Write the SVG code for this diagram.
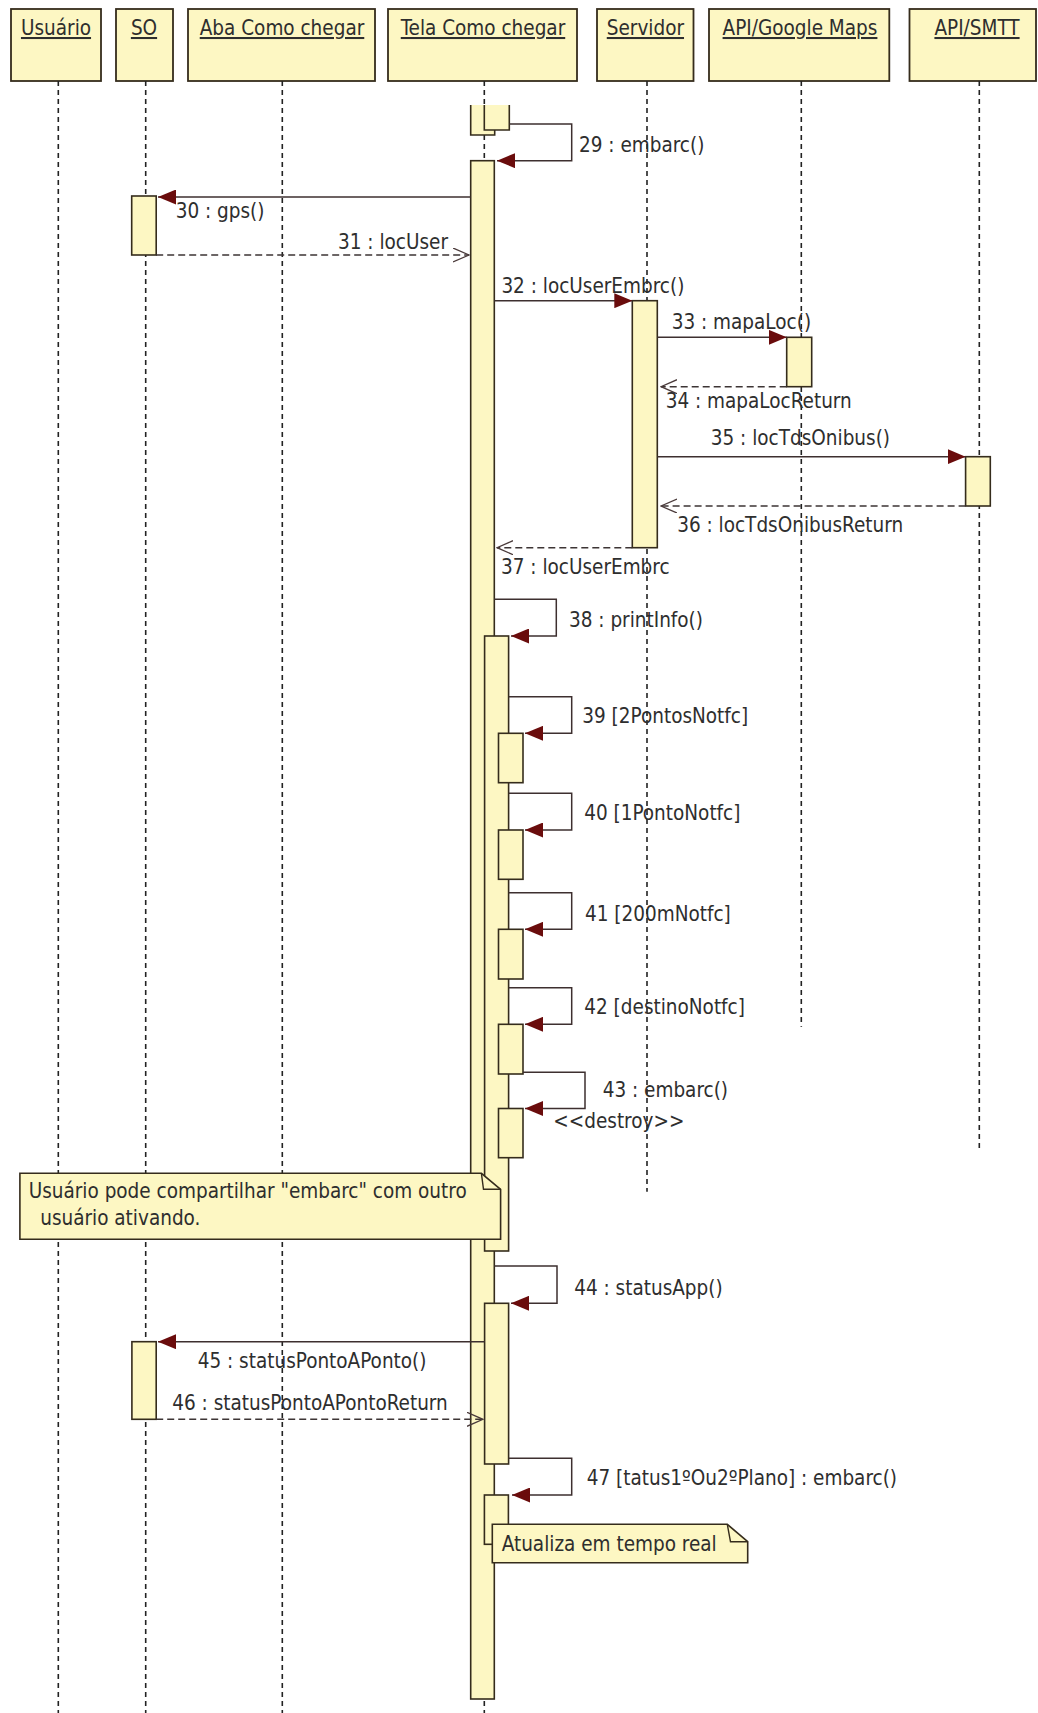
<svg xmlns="http://www.w3.org/2000/svg" width="1038" height="1713" viewBox="0 0 1038 1713">
  <style>
    text { font-family: "DejaVu Sans Condensed", "DejaVu Sans", sans-serif; font-stretch: condensed; font-size: 20.5px; fill: #2e2e2e; }
    .hd { text-anchor: middle; text-decoration: underline; }
    .box { fill: #fdf7c3; stroke: #352c1c; stroke-width: 1.8; }
    .act { fill: #fdf7c3; stroke: #352c1c; stroke-width: 1.6; }
    .frag { fill: #fdf7c3; stroke: #352c1c; stroke-width: 1.6; }
    .life { stroke: #222; stroke-width: 1.6; stroke-dasharray: 5 4; fill: none; }
    .call { stroke: #3d2f2f; stroke-width: 1.5; fill: none; marker-end: url(#solid); }
    .ret { stroke: #3d3535; stroke-width: 1.4; fill: none; stroke-dasharray: 7 4; marker-end: url(#open); }
    .note { fill: #fdf7c3; stroke: #352c1c; stroke-width: 1.6; }
    .fold { fill: none; stroke: #352c1c; stroke-width: 1.4; }
  </style>
  <defs>
    <marker id="solid" markerUnits="userSpaceOnUse" markerWidth="19" markerHeight="15" refX="18" refY="7.5" orient="auto">
      <path d="M0,0 L18,7.5 L0,15 Z" fill="#6a0c0c"/>
    </marker>
    <marker id="open" markerUnits="userSpaceOnUse" markerWidth="17" markerHeight="15" refX="16" refY="7" orient="auto">
      <path d="M0,0 L16,7 L0,14" fill="none" stroke="#4a3a3a" stroke-width="1.3"/>
    </marker>
  </defs>

  <rect width="1038" height="1713" fill="#ffffff"/>

  <!-- participants: header box, lifeline, activation bars -->
  <g id="usuario">
    <rect class="box" x="11" y="9" width="90" height="72"/>
    <text class="hd" x="56" y="35">Usuário</text>
    <line class="life" x1="58.3" y1="81" x2="58.3" y2="1713"/>
  </g>

  <g id="so">
    <rect class="box" x="116" y="9" width="57" height="72"/>
    <text class="hd" x="144" y="35">SO</text>
    <line class="life" x1="145.7" y1="81" x2="145.7" y2="1713"/>
    <rect class="act" x="131.7" y="196" width="24.5" height="59"/>
    <rect class="act" x="131.9" y="1341.7" width="24.3" height="77.6"/>
  </g>

  <g id="aba-como-chegar">
    <rect class="box" x="188" y="9" width="187" height="72"/>
    <text class="hd" x="282" y="35">Aba Como chegar</text>
    <line class="life" x1="282.3" y1="81" x2="282.3" y2="1713"/>
  </g>

  <g id="tela-como-chegar">
    <rect class="box" x="388" y="9" width="189" height="72"/>
    <text class="hd" x="483" y="35">Tela Como chegar</text>
    <line class="life" x1="484.3" y1="81" x2="484.3" y2="1713"/>
    <!-- bars continued from the previous page -->
    <rect x="470.7" y="105" width="24" height="30" fill="#fdf7c3"/>
    <path class="frag" d="M470.7,105 V135 H494.7 V105" fill="none"/>
    <rect x="484.3" y="105" width="25" height="25" fill="#fdf7c3"/>
    <path class="frag" d="M484.3,105 V130 H509.3 V105" fill="none"/>
    <!-- main activation -->
    <rect class="act" x="470.7" y="160.7" width="23.6" height="1538.3"/>
    <!-- printInfo and nested notifications -->
    <rect class="act" x="484.6" y="636" width="24" height="615"/>
    <rect class="act" x="498.5" y="733.3" width="24.5" height="49.4"/>
    <rect class="act" x="498.5" y="830" width="24.5" height="49.3"/>
    <rect class="act" x="498.5" y="929.3" width="24.5" height="49.7"/>
    <rect class="act" x="498.5" y="1024.3" width="24.5" height="49.7"/>
    <rect class="act" x="498.5" y="1108.5" width="24.5" height="49.2"/>
    <!-- statusApp and embarc -->
    <rect class="act" x="484.6" y="1303.3" width="24" height="160.7"/>
    <rect class="act" x="484.4" y="1495" width="24" height="49.3"/>
  </g>

  <g id="servidor">
    <rect class="box" x="597" y="9" width="96.5" height="72"/>
    <text class="hd" x="645.4" y="35">Servidor</text>
    <line class="life" x1="647" y1="81" x2="647" y2="1191.7"/>
    <rect class="act" x="632.3" y="300.7" width="25" height="247"/>
  </g>

  <g id="api-google-maps">
    <rect class="box" x="709" y="9" width="180.3" height="72"/>
    <text class="hd" x="800" y="35">API/Google Maps</text>
    <line class="life" x1="801.3" y1="81" x2="801.3" y2="1026.7"/>
    <rect class="act" x="786.7" y="337.3" width="25" height="49.4"/>
  </g>

  <g id="api-smtt">
    <rect class="box" x="909.5" y="9" width="126.5" height="72"/>
    <text class="hd" x="977" y="35">API/SMTT</text>
    <line class="life" x1="979.3" y1="81" x2="979.3" y2="1148.3"/>
    <rect class="act" x="965.6" y="456.7" width="24.7" height="49.3"/>
  </g>

  <!-- messages -->
  <g id="connectors">
    <path class="call" d="M509.3,124 H571.7 V160.7 H497"/>
    <text x="579" y="152">29 : embarc()</text>

    <path class="call" d="M470.7,197 H158"/>
    <text x="175.7" y="218.3">30 : gps()</text>

    <path class="ret" d="M156.2,255 H469"/>
    <text x="338" y="249">31 : locUser</text>

    <path class="call" d="M494.3,300.7 H632.3"/>
    <text x="501.4" y="292.7">32 : locUserEmbrc()</text>

    <path class="call" d="M657.3,337.3 H786.7"/>
    <text x="671.7" y="329.3">33 : mapaLoc()</text>

    <path class="ret" d="M786.7,386.7 H661"/>
    <text x="665.7" y="407.7">34 : mapaLocReturn</text>

    <path class="call" d="M657.3,456.7 H965.6"/>
    <text x="710.8" y="445">35 : locTdsOnibus()</text>

    <path class="ret" d="M965.6,506 H661"/>
    <text x="677.2" y="531.7">36 : locTdsOnibusReturn</text>

    <path class="ret" d="M632.3,547.7 H497"/>
    <text x="501" y="574.3">37 : locUserEmbrc</text>

    <path class="call" d="M494.3,599.3 H556.3 V636 H511"/>
    <text x="569" y="626.7">38 : printInfo()</text>

    <path class="call" d="M508.6,696.7 H571.7 V733.3 H525"/>
    <text x="582.3" y="723.3">39 [2PontosNotfc]</text>

    <path class="call" d="M508.6,793.3 H571.7 V830 H525"/>
    <text x="584.2" y="820">40 [1PontoNotfc]</text>

    <path class="call" d="M508.6,892.7 H571.7 V929.3 H525"/>
    <text x="585" y="920.7">41 [200mNotfc]</text>

    <path class="call" d="M508.6,987.7 H571.7 V1024.3 H525"/>
    <text x="584.3" y="1014">42 [destinoNotfc]</text>

    <path class="call" d="M523,1072.3 H585 V1108.5 H525"/>
    <text x="602.7" y="1097.3">43 : embarc()</text>
    <text x="553.3" y="1128.3">&lt;&lt;destroy&gt;&gt;</text>

    <path class="call" d="M494.3,1266 H557 V1303.3 H511"/>
    <text x="574.2" y="1295">44 : statusApp()</text>

    <path class="call" d="M484.6,1341.7 H158"/>
    <text x="197.7" y="1368.3">45 : statusPontoAPonto()</text>

    <path class="ret" d="M156.2,1419.3 H483"/>
    <text x="172.3" y="1410">46 : statusPontoAPontoReturn</text>

    <path class="call" d="M508.6,1458.3 H571.7 V1495 H512"/>
    <text x="586.8" y="1485">47 [tatus1ºOu2ºPlano] : embarc()</text>
  </g>

  <!-- notes -->
  <g id="note-compartilhar">
    <path class="note" d="M19.9,1173.3 H481.4 L500.6,1189.3 V1239.3 H19.9 Z"/>
    <path class="fold" d="M481.4,1173.3 L483.5,1189.3 H500.6"/>
    <text x="28.7" y="1198.3">Usuário pode compartilhar "embarc" com outro</text>
    <text x="40.2" y="1225">usuário ativando.</text>
  </g>

  <g id="note-tempo-real">
    <path class="note" d="M492.3,1524.3 H727.3 L747.7,1541.7 V1562.7 H492.3 Z"/>
    <path class="fold" d="M727.3,1524.3 L730.5,1541.7 H747.7"/>
    <text x="501.7" y="1550.7">Atualiza em tempo real</text>
  </g>
</svg>
